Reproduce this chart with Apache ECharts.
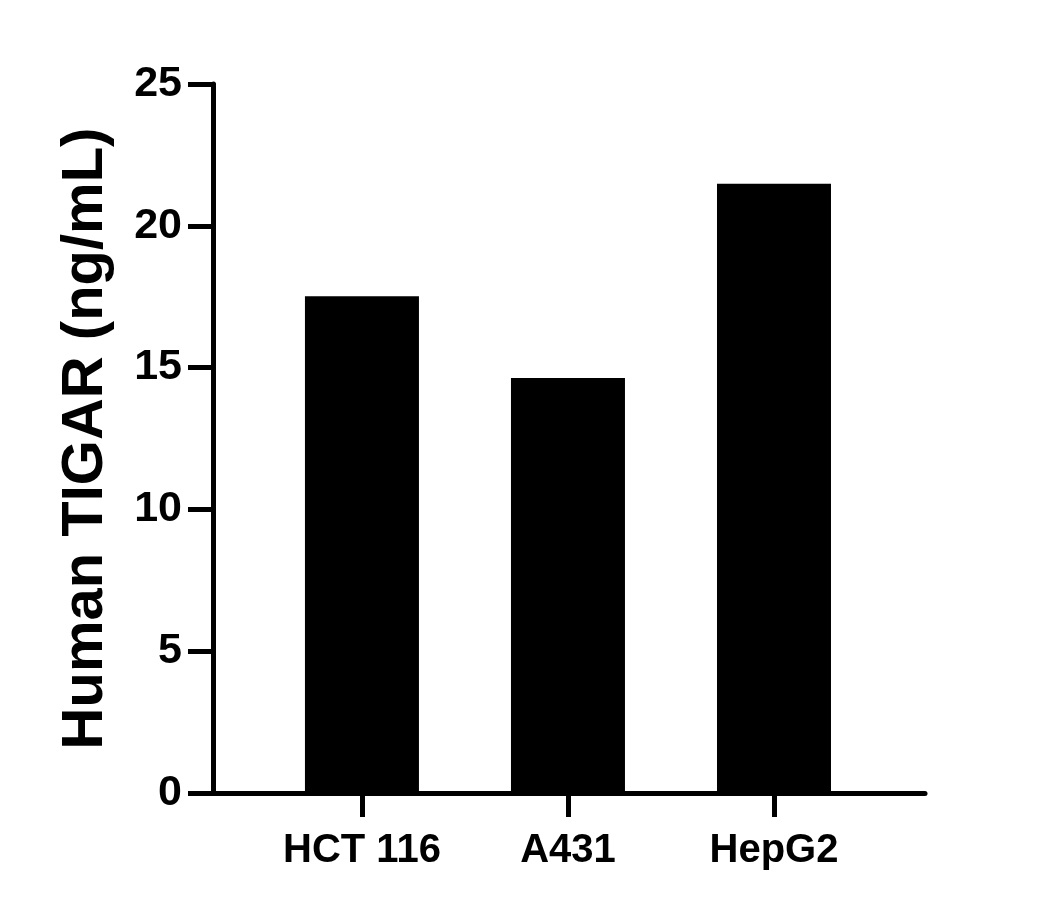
<!doctype html>
<html>
<head>
    <meta charset="UTF-8">
    <title>Human TIGAR</title>
    <script src="https://cdn.jsdelivr.net/npm/echarts@6/dist/echarts.min.js"></script>
    <style>
        html, body { margin: 0; padding: 0; background: #fff; }
        #main { width: 1056px; height: 910px; }
    </style>
</head>
<body>
<div id="main"></div>
<script type="text/javascript">
    var categories = ['HCT 116', 'A431', 'HepG2'];
    var values = [17.52, 14.63, 21.48];
    var yTicks = [0, 5, 10, 15, 20, 25];

    var font = 'Arial, "Liberation Sans", sans-serif';
    var positions = categories.map(function (c, i) { return i; });
    var barData = values.map(function (v, i) { return [i, v]; });

    var myChart = echarts.init(document.getElementById('main'));
    var option = {
        backgroundColor: '#ffffff',
        animation: false,
        grid: {
            left: 213,
            right: 131,
            top: 84,
            bottom: 117
        },
        xAxis: {
            type: 'value',
            min: -0.723,
            max: 2.733,
            axisLine: { show: true, onZero: false, lineStyle: { color: '#000', width: 5 } },
            axisTick: {
                show: true,
                customValues: positions,
                length: 24,
                lineStyle: { color: '#000', width: 5 }
            },
            axisLabel: {
                customValues: positions,
                formatter: function (v) { return categories[Math.round(v)]; },
                color: '#000',
                fontFamily: font,
                fontWeight: 'bold',
                fontSize: 40,
                margin: 38
            },
            splitLine: { show: false }
        },
        yAxis: {
            type: 'value',
            min: yTicks[0],
            max: yTicks[yTicks.length - 1],
            interval: 5,
            name: 'Human TIGAR (ng/mL)',
            nameLocation: 'middle',
            nameGap: 98,
            nameTextStyle: {
                color: '#000',
                fontFamily: font,
                fontWeight: 'bold',
                fontSize: 58
            },
            axisLine: { show: true, onZero: false, lineStyle: { color: '#000', width: 5 } },
            axisTick: {
                show: true,
                length: 25,
                lineStyle: { color: '#000', width: 5 }
            },
            axisLabel: {
                color: '#000',
                fontFamily: font,
                fontWeight: 'bold',
                fontSize: 43,
                margin: 31
            },
            splitLine: { show: false }
        },
        series: [{
            type: 'bar',
            data: barData,
            barWidth: 114,
            itemStyle: { color: '#000' }
        }]
    };
    myChart.setOption(option);
</script>
</body>
</html>
